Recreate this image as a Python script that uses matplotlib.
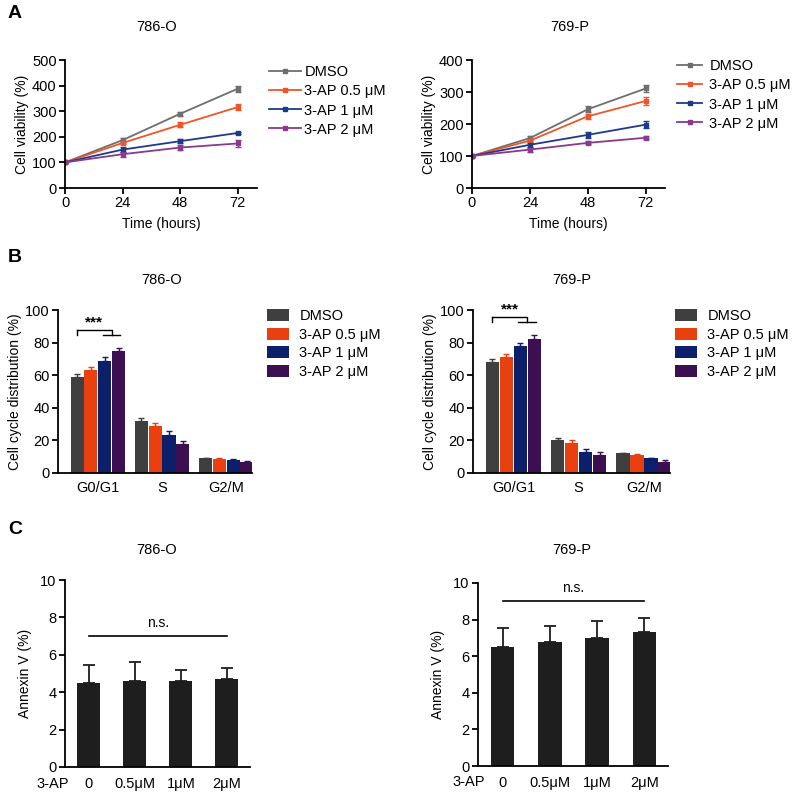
import matplotlib
matplotlib.use("Agg")
import matplotlib.pyplot as plt
from matplotlib.lines import Line2D
from matplotlib.transforms import blended_transform_factory
import numpy as np

plt.rcParams['font.family'] = ['Liberation Sans', 'DejaVu Sans']
plt.rcParams['font.size'] = 10
plt.rcParams['axes.linewidth'] = 1.3
plt.rcParams['xtick.major.width'] = 1.3
plt.rcParams['ytick.major.width'] = 1.3
plt.rcParams['xtick.major.size'] = 4
plt.rcParams['ytick.major.size'] = 4

# ---- data ----
groups = ['DMSO', '3-AP 0.5 μM', '3-AP 1 μM', '3-AP 2 μM']
line_colors = ['#6e6e6e', '#f0552a', '#1d3a8c', '#8a3a8c']
bar_colors = ['#3f3f3f', '#e8410f', '#0c1f6a', '#3c1050']

hours = [0, 24, 48, 72]
via_786 = [[100, 187, 290, 388],
           [100, 176, 247, 316],
           [100, 150, 183, 215],
           [100, 132, 158, 174]]
via_786_err = [[2, 8, 8, 12], [2, 6, 10, 12], [2, 10, 8, 5], [2, 10, 10, 12]]
via_769 = [[100, 156, 246, 311],
           [100, 148, 224, 272],
           [100, 135, 166, 198],
           [100, 120, 141, 157]]
via_769_err = [[2, 6, 10, 10], [2, 6, 8, 12], [2, 8, 10, 10], [2, 6, 5, 5]]

phases = ['G0/G1', 'S', 'G2/M']
cc_786 = [[59, 32, 9], [63, 29, 8.5], [68.5, 23.5, 8], [75, 18, 7]]
cc_786_err = [[2, 1.5, 0.5], [2, 1.5, 0.5], [2.5, 2.5, 0.5], [1.5, 1.5, 0.5]]
cc_769 = [[68, 20, 12], [71, 18.5, 11], [78, 13, 9], [82, 11, 7]]
cc_769_err = [[2, 1.5, 0.5], [2, 2, 0.5], [2, 2, 0.5], [2.5, 2, 1]]

doses = ['0', '0.5μM', '1μM', '2μM']
ann_786 = [4.5, 4.6, 4.6, 4.7]
ann_786_err = [0.95, 1.0, 0.6, 0.6]
ann_769 = [6.5, 6.75, 7.0, 7.3]
ann_769_err = [1.05, 0.9, 0.9, 0.8]

W = 792.0
fig = plt.figure(figsize=(7.92, 7.92), dpi=100)


def box(x0, y0, x1, y1):
    # pixel box (top-left origin) -> figure fraction
    return [x0 / W, 1 - y1 / W, (x1 - x0) / W, (y1 - y0) / W]


def clean(ax):
    ax.spines['top'].set_visible(False)
    ax.spines['right'].set_visible(False)
    ax.tick_params(labelsize=10.5, pad=2)


# ---- A: viability lines ----
def viability(rect, data, err, ymax, title, tx, leg_xy, hl, hp):
    ax = fig.add_axes(box(*rect))
    handles = []
    for vals, e, c, lab in zip(data, err, line_colors, groups):
        ax.errorbar(hours, vals, yerr=e, color=c, lw=1.3, marker='s', ms=3,
                    capsize=2.5, capthick=1, elinewidth=1)
        handles.append(Line2D([], [], color=c, lw=1.3, marker='s', ms=3, label=lab))
    ax.set_xlim(0, 80)
    ax.set_ylim(0, ymax)
    ax.set_xticks(hours)
    ax.set_yticks(np.arange(0, ymax + 1, 100))
    ax.set_xlabel('Time (hours)', fontsize=10, labelpad=5)
    ax.set_ylabel('Cell viability (%)', fontsize=10, labelpad=2)
    clean(ax)
    fig.text(tx / W, 1 - 27 / W, title, ha='center', va='center', fontsize=10.5)
    ax.legend(handles=handles, loc='upper left',
              bbox_to_anchor=(leg_xy[0] / W, 1 - leg_xy[1] / W),
              bbox_transform=fig.transFigure, frameon=False, fontsize=10.5,
              handlelength=hl, handletextpad=hp, labelspacing=0.35, borderpad=0)
    return ax


viability((65, 60, 257, 188), via_786, via_786_err, 500, '786-O', 157, (262, 58), 2.2, 0.2)
viability((472, 60, 665, 188), via_769, via_769_err, 400, '769-P', 570, (670, 52), 1.7, 0.5)


# ---- B: cell cycle bars ----
def cycle(rect, data, err, title, tx, leg_xy):
    ax = fig.add_axes(box(*rect))
    x = np.arange(len(phases))
    w = 0.215
    for i, (vals, e, c, lab) in enumerate(zip(data, err, bar_colors, groups)):
        ax.bar(x + (i - 1.5) * w, vals, w * 0.95, color=c, label=lab,
               yerr=[np.zeros(len(e)), e], capsize=2.5,
               error_kw=dict(ecolor=c, elinewidth=1, capthick=1))
    ax.set_xlim(-0.62, 2.4)
    ax.set_ylim(0, 100)
    ax.set_xticks(x)
    ax.set_xticklabels(phases)
    clean(ax)
    ax.tick_params(axis='x', length=0, pad=6)
    ax.set_yticks(np.arange(0, 101, 20))
    ax.set_ylabel('Cell cycle distribution (%)', fontsize=10, labelpad=2)
    top = max(v[0] + e[0] for v, e in zip(data, err))
    x0 = -1.5 * w
    xm = 1.0 * w
    y1 = top + 11
    y0 = top + 8
    ax.plot([x0, x0], [y1, y0], color='black', lw=1)
    ax.plot([x0, xm, xm], [y1, y1, y0], color='black', lw=1)
    ax.plot([0.5 * w - 0.03, 1.5 * w + 0.03], [y0, y0], color='black', lw=1)
    ax.text((x0 + xm) / 2, y1 + 0.3, '***', ha='center', va='bottom', fontsize=11,
            fontweight='bold')
    fig.text(tx / W, 1 - 280 / W, title, ha='center', va='center', fontsize=10.5)
    ax.legend(loc='upper left', bbox_to_anchor=(leg_xy[0] / W, 1 - leg_xy[1] / W),
              bbox_transform=fig.transFigure, frameon=False, fontsize=10.5,
              handlelength=1.5, handleheight=0.9, handletextpad=0.7,
              labelspacing=0.3, borderpad=0)
    return ax


cycle((58, 310, 252, 473), cc_786, cc_786_err, '786-O', 162, (260, 302))
cycle((473, 310, 670, 473), cc_769, cc_769_err, '769-P', 572, (668, 302))


# ---- C: annexin V bars ----
def annexin(rect, vals, err, title, tx, ns_y, lab_x):
    ax = fig.add_axes(box(*rect))
    x = np.arange(len(doses))
    ax.bar(x, vals, 0.5, color='#1e1e1e', yerr=[np.zeros(len(err)), err],
           capsize=4, error_kw=dict(ecolor='#1e1e1e', elinewidth=1.3, capthick=1.3))
    ax.set_xlim(-0.52, 3.5)
    ax.set_ylim(0, 10)
    ax.set_xticks(x)
    ax.set_xticklabels(doses)
    clean(ax)
    ax.tick_params(axis='x', length=0, pad=7)
    ax.set_yticks(np.arange(0, 11, 2))
    ax.set_ylabel('Annexin V (%)', fontsize=10, labelpad=6)
    h = rect[3] - rect[1]
    trans = blended_transform_factory(ax.transData, ax.transAxes)
    ax.text(lab_x, -16.5 / h, '3-AP', transform=trans, ha='center', va='center',
            fontsize=10.5)
    ax.plot([0, 3], [ns_y, ns_y], color='black', lw=1.2)
    ax.text(1.5, ns_y + 0.35, 'n.s.', ha='center', va='bottom', fontsize=10)
    fig.text(tx / W, 1 - 550 / W, title, ha='center', va='center', fontsize=10.5)
    return ax


annexin((65, 580, 250, 767), ann_786, ann_786_err, '786-O', 157, 7.0, -0.78)
annexin((478, 583, 668, 766), ann_769, ann_769_err, '769-P', 572, 9.0, -0.72)

# panel letters
for lab, y in [('A', 14), ('B', 258), ('C', 530)]:
    fig.text(8 / W, 1 - y / W, lab, ha='left', va='center', fontsize=14, fontweight='bold')

fig.savefig('out.png', dpi=100)
